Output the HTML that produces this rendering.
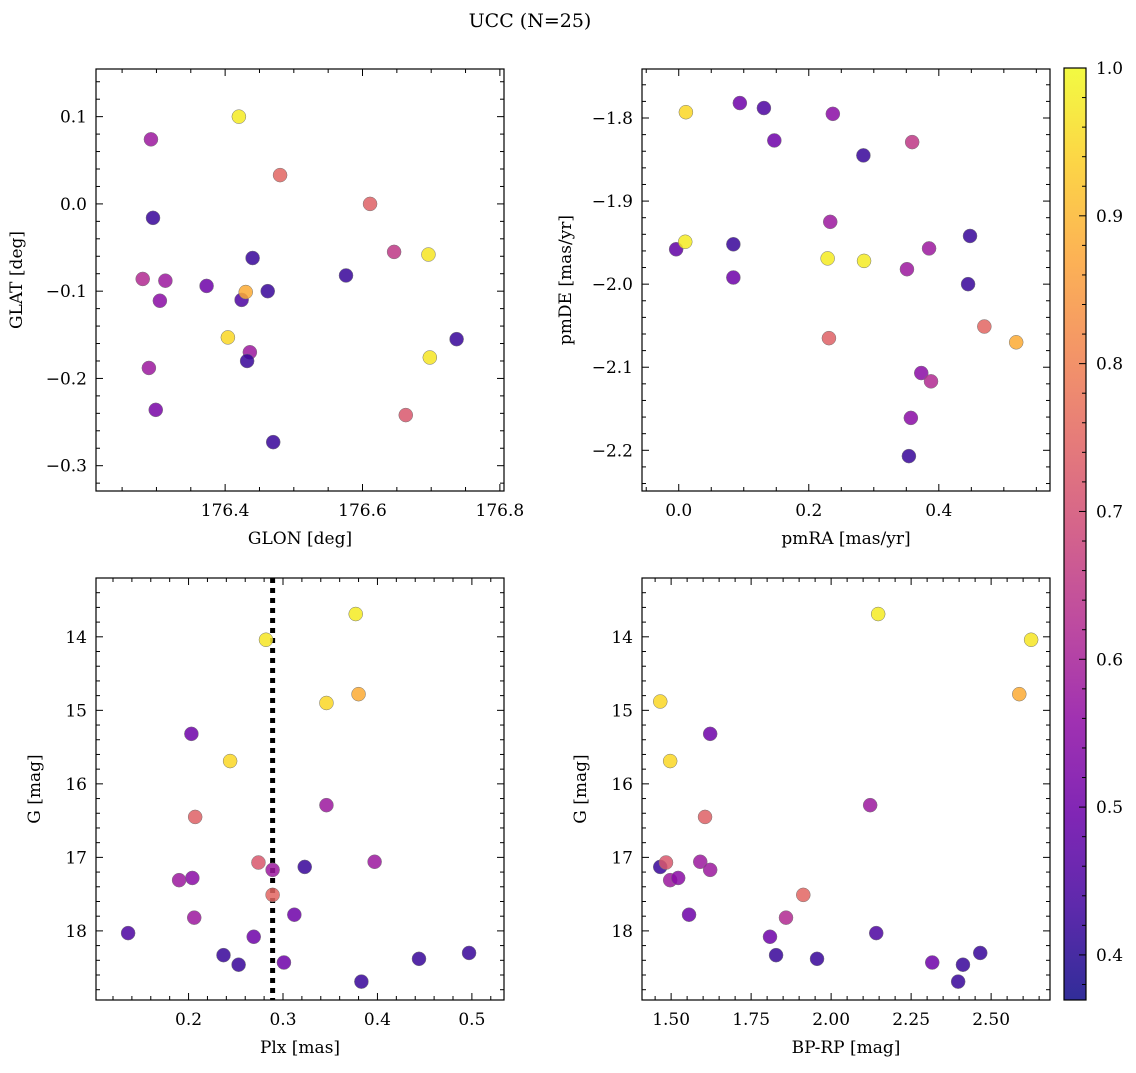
<!DOCTYPE html>
<html><head><meta charset="utf-8"><style>
html,body{margin:0;padding:0;background:#fff;}
svg text{font-family:"DejaVu Serif","Liberation Serif",serif;fill:#000;}
</style></head><body>
<svg id="fig" width="1136" height="1068" viewBox="0 0 1136 1068" xmlns="http://www.w3.org/2000/svg">
<rect width="1136" height="1068" fill="#fff"/>
<text x="530" y="27" font-size="19" text-anchor="middle">UCC (N=25)</text>
</svg>
<script>
// Panel 1: GLON / GLAT
const p1x=[176.292,176.420,176.480,176.295,176.611,176.280,176.313,176.305,176.373,176.440,176.424,176.462,176.576,176.646,176.696,176.404,176.430,176.436,176.432,176.289,176.299,176.470,176.663,176.698,176.737];
const p1y=[0.074,0.100,0.033,-0.016,0.0,-0.086,-0.088,-0.111,-0.094,-0.062,-0.110,-0.100,-0.082,-0.055,-0.058,-0.153,-0.101,-0.170,-0.180,-0.188,-0.236,-0.273,-0.242,-0.176,-0.155];
const p1c=[0.58,0.98,0.75,0.42,0.74,0.62,0.58,0.55,0.50,0.42,0.45,0.42,0.42,0.65,0.97,0.95,0.88,0.58,0.42,0.58,0.52,0.42,0.72,0.97,0.42];
// Panel 2: pmRA / pmDE
const p2x=[0.011,0.094,0.131,0.147,0.237,0.284,0.359,-0.004,0.010,0.084,0.084,0.233,0.229,0.285,0.351,0.385,0.448,0.445,0.470,0.519,0.231,0.373,0.388,0.357,0.354];
const p2y=[-1.793,-1.782,-1.788,-1.827,-1.795,-1.845,-1.829,-1.958,-1.949,-1.952,-1.992,-1.925,-1.969,-1.972,-1.982,-1.957,-1.942,-2.000,-2.051,-2.070,-2.065,-2.107,-2.117,-2.161,-2.207];
const p2c=[0.95,0.50,0.45,0.50,0.55,0.42,0.65,0.48,0.98,0.42,0.50,0.58,0.98,0.98,0.58,0.58,0.42,0.42,0.75,0.88,0.74,0.55,0.62,0.55,0.42];
// Panel 3: Plx / G
const p3x=[0.377,0.282,0.380,0.346,0.203,0.244,0.207,0.346,0.274,0.289,0.323,0.397,0.190,0.204,0.289,0.206,0.312,0.136,0.269,0.237,0.253,0.301,0.383,0.444,0.497];
const p3y=[13.69,14.04,14.78,14.90,15.32,15.69,16.45,16.29,17.07,17.17,17.13,17.06,17.31,17.28,17.51,17.82,17.78,18.03,18.08,18.33,18.46,18.43,18.69,18.38,18.30];
const p3c=[0.98,0.97,0.88,0.95,0.50,0.95,0.74,0.58,0.72,0.58,0.42,0.58,0.58,0.55,0.75,0.58,0.50,0.45,0.50,0.42,0.42,0.50,0.42,0.42,0.42];
const plxMean=[0.289];
// Panel 4: BP-RP / G
const p4x=[2.147,2.625,2.588,1.466,1.497,1.622,2.122,1.606,1.466,1.484,1.497,1.522,1.591,1.622,1.913,1.556,1.859,1.809,1.828,1.956,2.141,2.316,2.412,2.466,2.397];
const p4y=[13.69,14.04,14.78,14.88,15.69,15.32,16.29,16.45,17.13,17.07,17.31,17.28,17.06,17.17,17.51,17.78,17.82,18.08,18.33,18.38,18.03,18.43,18.46,18.30,18.69];
const p4c=[0.98,0.97,0.88,0.95,0.95,0.50,0.58,0.74,0.42,0.72,0.58,0.55,0.58,0.58,0.75,0.50,0.62,0.50,0.42,0.42,0.45,0.50,0.42,0.42,0.42];
const cbTicks=[0.4,0.5,0.6,0.7,0.8,0.9,1.0];

const NS="http://www.w3.org/2000/svg";
const svg=document.getElementById('fig');
function mk(tag,attrs,parent){const e=document.createElementNS(NS,tag);for(const k in attrs)e.setAttribute(k,attrs[k]);(parent||svg).appendChild(e);return e;}
const stops=['#0d0887','#41049d','#6a00a8','#8f0da4','#b12a90','#cc4778','#e16462','#f2844b','#fca636','#fcce25','#f0f921'];
function hex(h){return [parseInt(h.substr(1,2),16),parseInt(h.substr(3,2),16),parseInt(h.substr(5,2),16)];}
const CMIN=0.3695,CMAX=1.0;
function cmap(v){let t=(v-CMIN)/(CMAX-CMIN);t=Math.max(0,Math.min(1,t));const f=t*10;const i=Math.min(9,Math.floor(f));const a=hex(stops[i]),b=hex(stops[i+1]);const u=f-i;return 'rgb('+a.map((x,k)=>Math.round(x+(b[k]-x)*u)).join(',')+')';}

function panel(o){
  const g=mk('g',{});
  
  
  const sx=v=>o.L+(v-o.x0)/(o.x1-o.x0)*(o.R-o.L);
  const sy=v=>o.inv? o.T+(v-o.y0)/(o.y1-o.y0)*(o.B-o.T) : o.B-(v-o.y0)/(o.y1-o.y0)*(o.B-o.T);
  const eps=1e-9;
  function ticks(lo,hi,step,minorDiv,isX){
    const ms=step/minorDiv;
    for(let k=Math.ceil(lo/ms-eps);k*ms<=hi+eps;k++){
      const v=k*ms;const major=Math.abs(v/step-Math.round(v/step))<1e-6;
      const len=major?7:4;
      if(isX){const x=sx(v);
        mk('line',{x1:x,x2:x,y1:o.B,y2:o.B-len,stroke:'#000','stroke-width':1},g);
        mk('line',{x1:x,x2:x,y1:o.T,y2:o.T+len,stroke:'#000','stroke-width':1},g);
        if(major){const tl=mk('text',{x:x,y:o.B+25,'font-size':17,'text-anchor':'middle'},g);tl.textContent=o.xf(v);
          }
      }else{const y=sy(v);
        mk('line',{x1:o.L,x2:o.L+len,y1:y,y2:y,stroke:'#000','stroke-width':1},g);
        mk('line',{x1:o.R,x2:o.R-len,y1:y,y2:y,stroke:'#000','stroke-width':1},g);
        if(major){const tl=mk('text',{x:o.L-9,y:y+6,'font-size':17,'text-anchor':'end'},g);tl.textContent=o.yf(v);
          }
      }
    }
  }
  const clip='c'+o.name;
  const cp=mk('clipPath',{id:clip},g);mk('rect',{x:o.L,y:o.T,width:o.R-o.L,height:o.B-o.T},cp);
  const pts=mk('g',{'clip-path':'url(#'+clip+')'},g);
  if(o.vline!==undefined){const l=mk('line',{x1:sx(o.vline),x2:sx(o.vline),y1:o.T,y2:o.B,stroke:'#000','stroke-width':5,'stroke-dasharray':'5,5'},pts);
    }
  for(let i=0;i<o.xs.length;i++){
    const c=mk('circle',{cx:sx(o.xs[i]),cy:sy(o.ys[i]),r:7,fill:cmap(o.cs[i]),'fill-opacity':0.85,stroke:'#777','stroke-width':0.5},pts);
    
    
  }
  const fr=mk('rect',{x:o.L,y:o.T,width:o.R-o.L,height:o.B-o.T,fill:'none',stroke:'#000','stroke-width':1.2},g);
  
  ticks(o.x0,o.x1,o.xs_step,o.xminor,true);
  ticks(Math.min(o.y0,o.y1),Math.max(o.y0,o.y1),o.ys_step,o.yminor,false);
  const xl=mk('text',{x:(o.L+o.R)/2,y:o.B+53,'font-size':17,'text-anchor':'middle'},g);xl.textContent=o.xlab;
  
  const yx=o.L-o.ylabOff,ym=(o.T+o.B)/2;
  const yl=mk('text',{x:yx,y:ym,'font-size':17,'text-anchor':'middle',transform:'rotate(-90 '+yx+' '+ym+')'},g);yl.textContent=o.ylab;
  
}
const f1=v=>v.toFixed(1).replace('-','\u2212');
const f2=v=>v.toFixed(2);
const f0=v=>v.toFixed(0);
panel({name:'glon-glat-panel',L:96,R:504,T:69,B:491,x0:176.212,x1:176.806,y0:-0.329,y1:0.1546,xs_step:0.2,xminor:4,ys_step:0.1,yminor:5,xf:f1,yf:f1,xs:p1x,ys:p1y,cs:p1c,xlab:'GLON [deg]',ylab:'GLAT [deg]',ylabOff:74});
panel({name:'pm-panel',L:642,R:1050,T:69,B:491,x0:-0.0565,x1:0.571,y0:-2.249,y1:-1.741,xs_step:0.2,xminor:4,ys_step:0.1,yminor:5,xf:f1,yf:f1,xs:p2x,ys:p2y,cs:p2c,xlab:'pmRA [mas/yr]',ylab:'pmDE [mas/yr]',ylabOff:71});
panel({name:'plx-g-panel',L:96,R:504,T:578,B:1000,x0:0.102,x1:0.534,y0:13.2,y1:18.94,inv:true,xs_step:0.1,xminor:5,ys_step:1,yminor:5,xf:f1,yf:f0,xs:p3x,ys:p3y,cs:p3c,xlab:'Plx [mas]',ylab:'G [mag]',ylabOff:56,vline:plxMean[0]});
panel({name:'cmd-panel',L:642,R:1050,T:578,B:1000,x0:1.409,x1:2.684,y0:13.2,y1:18.94,inv:true,xs_step:0.25,xminor:5,ys_step:1,yminor:5,xf:f2,yf:f0,xs:p4x,ys:p4y,cs:p4c,xlab:'BP-RP [mag]',ylab:'G [mag]',ylabOff:56});

// colorbar
const cb=mk('g',{});


const CL=1064,CR=1086,CT=68,CB=1000;
const defs=mk('defs',{},cb);
const lg=mk('linearGradient',{id:'cbg',x1:0,y1:1,x2:0,y2:0},defs);
for(let i=0;i<=20;i++){const v=CMIN+(CMAX-CMIN)*i/20;mk('stop',{offset:i/20,'stop-color':cmap(v),'stop-opacity':0.85},lg);}
mk('rect',{x:CL,y:CT,width:CR-CL,height:CB-CT,fill:'url(#cbg)',stroke:'#000','stroke-width':1.2},cb);
const cy=v=>CB-(v-CMIN)/(CMAX-CMIN)*(CB-CT);
for(let k=Math.ceil(CMIN/0.02-1e-9);k*0.02<=CMAX+1e-9;k++){const v=k*0.02;const y=cy(v);
  const major=Math.abs(v*10-Math.round(v*10))<1e-6;
  mk('line',{x1:CR,x2:CR-(major?7:4),y1:y,y2:y,stroke:'#000','stroke-width':1},cb);}
for(const t of cbTicks){const tl=mk('text',{x:CR+10,y:cy(t)+6,'font-size':17},cb);tl.textContent=t.toFixed(1);
  
  }
</script>
</body></html>
